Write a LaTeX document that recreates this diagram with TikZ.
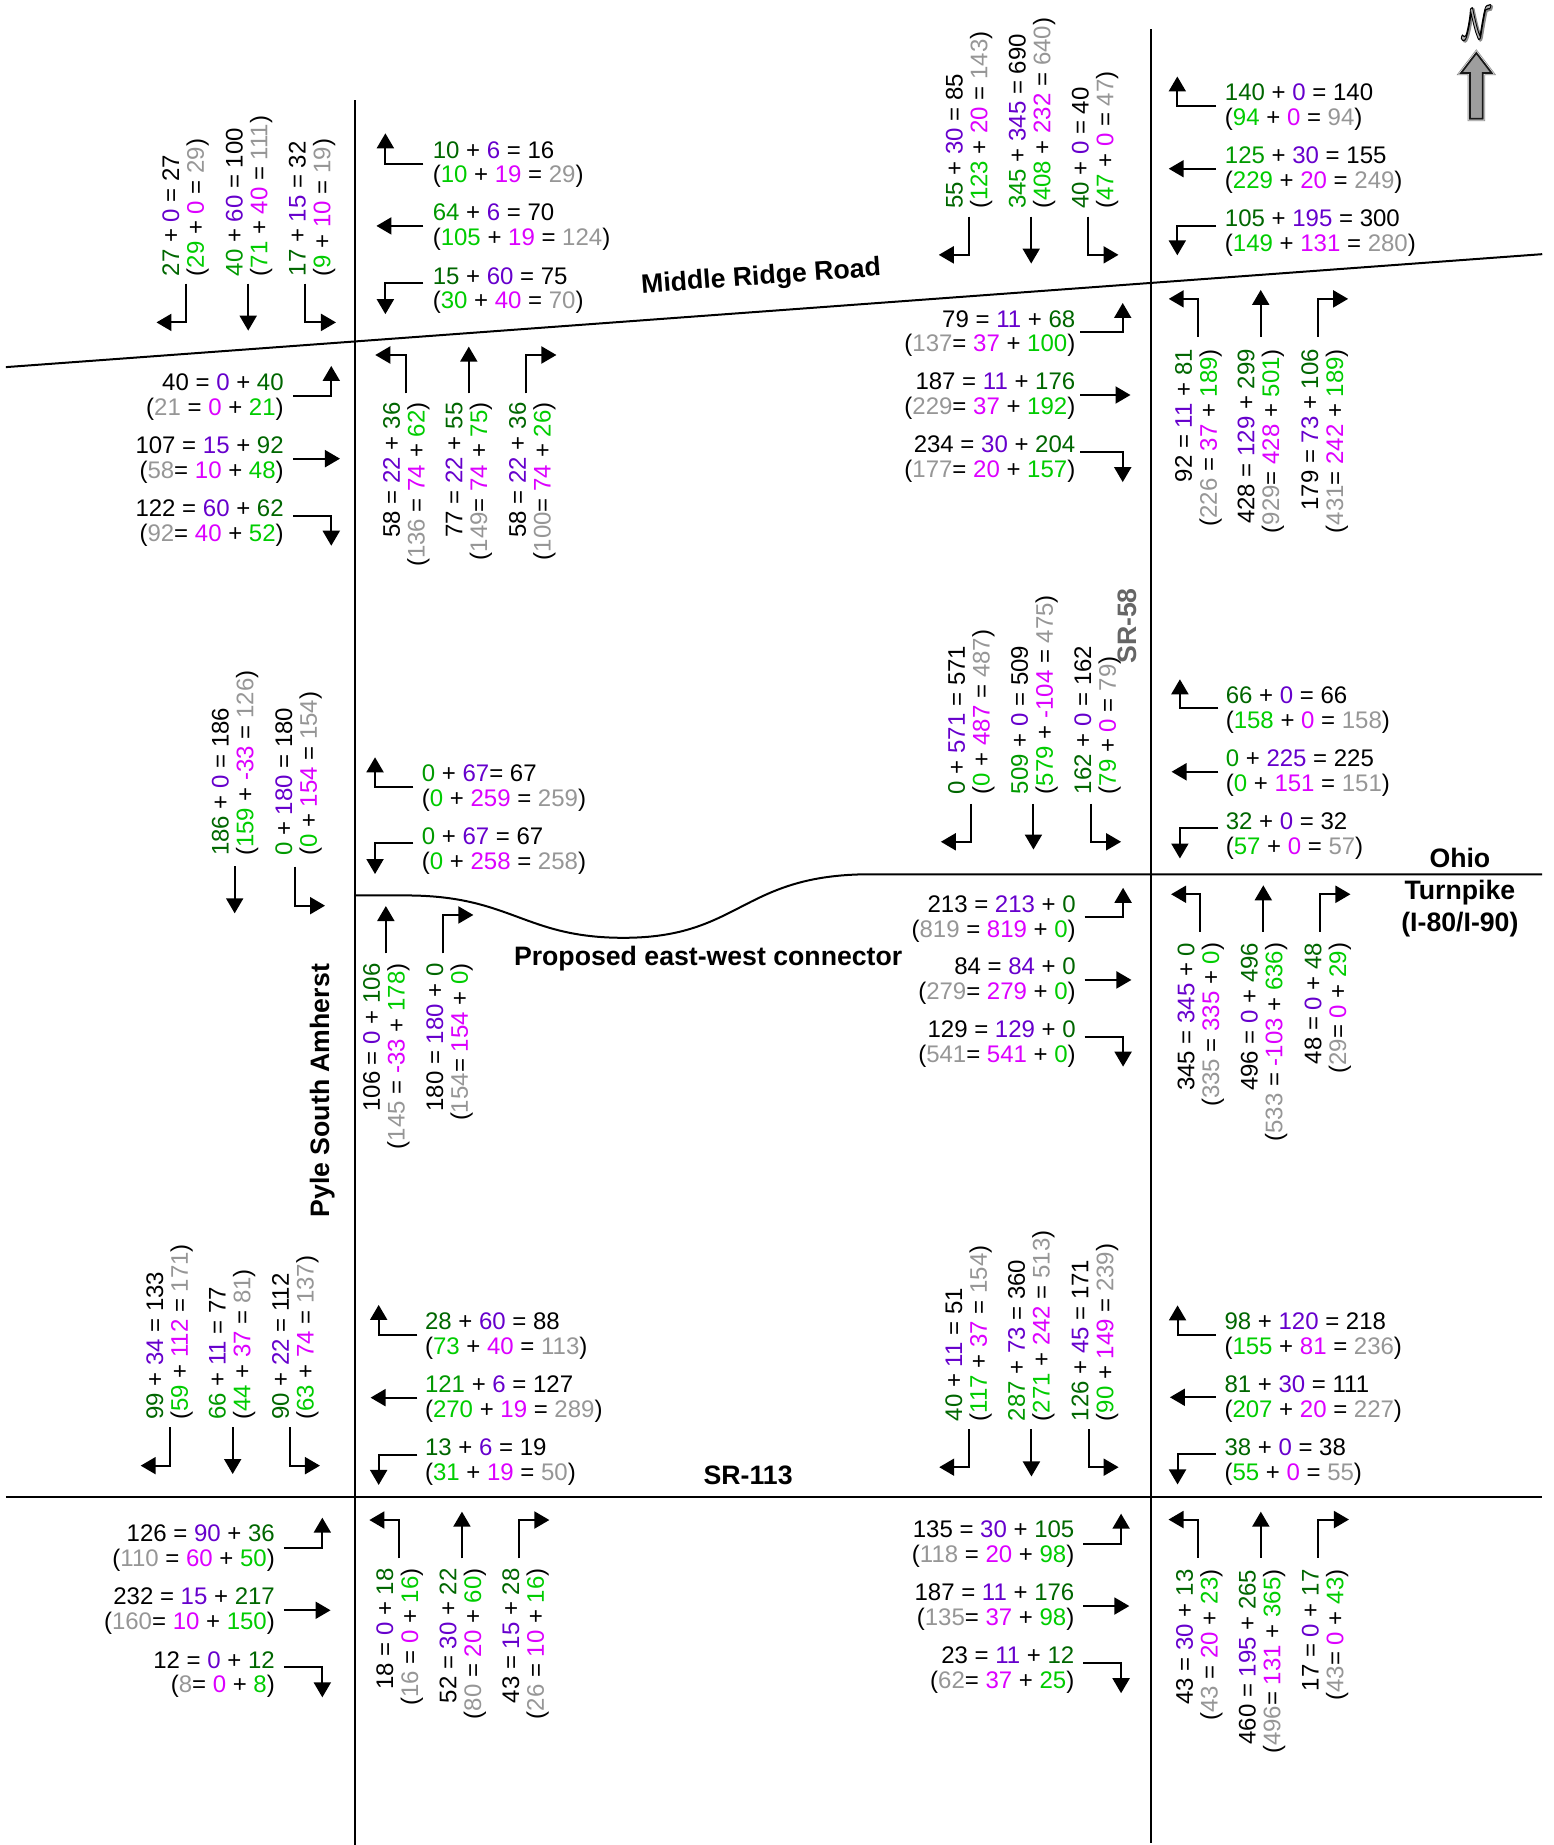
\documentclass[tikz,border=0pt]{standalone}
\usepackage{fontspec}
\usepackage{graphicx}
\setmainfont{Liberation Sans}
\usetikzlibrary{arrows.meta}
\definecolor{gdark}{HTML}{006600}
\definecolor{gmid}{HTML}{009900}
\definecolor{glight}{HTML}{00CC00}
\definecolor{purp}{HTML}{6600CC}
\definecolor{magn}{HTML}{DC00FF}
\definecolor{grey}{HTML}{969696}
\newcommand{\Cd}[1]{\textcolor{gdark}{#1}}
\newcommand{\Cm}[1]{\textcolor{gmid}{#1}}
\newcommand{\Cl}[1]{\textcolor{glight}{#1}}
\newcommand{\Cp}[1]{\textcolor{purp}{#1}}
\newcommand{\Cg}[1]{\textcolor{magn}{#1}}
\newcommand{\Cy}[1]{\textcolor{grey}{#1}}
% forward: a + b = c (d + e = f)
\newcommand{\Fd}[6]{\Cd{#1} + \Cp{#2} = #3\\(\Cl{#4} + \Cg{#5} = \Cy{#6})}
\newcommand{\Fm}[6]{\Cm{#1} + \Cp{#2} = #3\\(\Cl{#4} + \Cg{#5} = \Cy{#6})}
% backward: c = a + b (f = d + e)
\newcommand{\Bs}[6]{#1 = \Cp{#2} + \Cd{#3}\\(\Cy{#4} = \Cg{#5} + \Cl{#6})}
\newcommand{\Bn}[6]{#1 = \Cp{#2} + \Cd{#3}\\(\Cy{#4}= \Cg{#5} + \Cl{#6})}
\tikzset{
  road/.style={line width=2pt,line join=miter},
  mv/.style={line width=2pt,-{Triangle[length=15pt,width=17pt]}},
  flow/.style={inner sep=0pt,font=\fontsize{24}{24.8}\selectfont},
  tag/.style={inner sep=0pt,font=\fontsize{26.67}{32}\selectfont\bfseries,align=center},
  northmark/.style={inner sep=0pt,font=\fontsize{24.88}{25}\selectfont},
}
\newcommand{\Up}[4]{\node[flow,rotate=90,anchor=west,align=left] (#1) at ([xshift=2.1pt]#2,#3) {#4};}
\newcommand{\Dn}[4]{\node[flow,rotate=90,anchor=east,align=right] (#1) at ([xshift=2.1pt]#2,#3) {#4};}
\newcommand{\Lt}[4]{\node[flow,anchor=west,align=left] (#1) at ([xshift=-1pt,yshift=-2.9pt]#2,#3) {#4};}
\newcommand{\Rt}[4]{\node[flow,anchor=east,align=right] (#1) at ([yshift=-2.9pt]#2,#3) {#4};}
% x1 x2 x3 ystart yturn yend xleft xright
\newcommand{\VArrows}[8]{%
  \draw[mv] (#1,#4) -- (#1,#5) -- (#7,#5);
  \draw[mv] (#2,#4) -- (#2,#6);
  \draw[mv] (#3,#4) -- (#3,#5) -- (#8,#5);}
% xstart xturn xend y1 y2 y3 yfirst-end ylast-end
\newcommand{\HArrows}[8]{%
  \draw[mv] (#1,#4) -- (#2,#4) -- (#2,#7);
  \draw[mv] (#1,#5) -- (#3,#5);
  \draw[mv] (#1,#6) -- (#2,#6) -- (#2,#8);}
\begin{document}
\begin{tikzpicture}[x=1.17638pt,y=-1.17666pt]
\useasboundingbox (0,0) rectangle (1321,1568);
% roads
\draw[road] (302,85) -- (302,1568);
\draw[road] (978,25) -- (978,1566);
\draw[road] (5,312) -- (1311,216);
\draw[road] (5,1272) -- (1311,1272);
\draw[road] (302,761) -- (345,761) .. controls (435,761) and (445,797) .. (530,797)
  .. controls (630,797) and (630,743) .. (740,743) -- (1311,743);
% road labels
\node[tag,rotate=4.2] (rMiddle) at (647,236) {Middle Ridge Road};
\node[tag,rotate=90,text=black!60] (rSR58) at (958,532) {SR-58};
\node[tag] (rOhio) at (1241,729) {Ohio};
\node[tag] (rTurn) at (1241,772.5) {Turnpike\\(I-80/I-90)};
\node[tag] (rProp) at (602,815) {Proposed east-west connector};
\node[tag,rotate=90] (rPyle) at (274,927) {Pyle South Amherst};
\node[tag] (rSR113) at (636,1254) {SR-113};
% north arrow
\node[northmark,text=black!45] (nShadow) at (1256.2,21) {\scalebox{1.18}[1.75]{\special{pdf:code 2 Tr 1.1 w 0.55 0.55 0.55 RG}$\mathcal{N}$\special{pdf:code 0 Tr 1 w}}};
\node[northmark,text=black!30] (nLetter) at (1255,20) {\scalebox{1.18}[1.75]{\special{pdf:code 2 Tr 0.7 w 0 0 0 RG}$\mathcal{N}$\special{pdf:code 0 Tr 1 w}}};
\path[draw=black!45,line width=4.5pt,line join=miter]
  (1255,45) -- (1268,62) -- (1260.5,62) -- (1260.5,101) -- (1249.5,101) -- (1249.5,62) -- (1242,62) -- cycle;
\path[draw=white,line width=3pt,line join=miter]
  (1255,45) -- (1268,62) -- (1260.5,62) -- (1260.5,101) -- (1249.5,101) -- (1249.5,62) -- (1242,62) -- cycle;
\path[draw=black!90,fill=black!38,line width=1.8pt,line join=miter]
  (1255,45) -- (1268,62) -- (1260.5,62) -- (1260.5,101) -- (1249.5,101) -- (1249.5,62) -- (1242,62) -- cycle;
% ---------- Intersection Middle Ridge / Pyle
\Up{a1}{156}{235}{\Fd{27}{0}{27}{29}{0}{29}}
\Up{a2}{210}{235}{\Fm{40}{60}{100}{71}{40}{111}}
\Up{a3}{263.5}{235}{\Fd{17}{15}{32}{9}{10}{19}}
\VArrows{158}{211}{259.6}{241}{274}{281}{133}{285.6}
\Lt{a4}{368.6}{137.5}{\Fd{10}{6}{16}{10}{19}{29}}
\Lt{a5}{368.6}{190.7}{\Fm{64}{6}{70}{105}{19}{124}}
\Lt{a6}{368.6}{244.5}{\Fd{15}{60}{75}{30}{40}{70}}
\HArrows{360}{327.6}{320}{139}{192}{240.7}{113.3}{267}
\Rt{a7}{241.3}{335.3}{\Bs{40}{0}{40}{21}{0}{21}}
\Rt{a8}{241.3}{388.8}{\Bn{107}{15}{92}{58}{10}{48}}
\Rt{a9}{241.3}{442}{\Bn{122}{60}{62}{92}{40}{52}}
\HArrows{249.3}{281.6}{289}{336.6}{389.8}{438.3}{311}{463.8}
\Dn{a10}{343.6}{342}{\Bs{58}{22}{36}{136}{74}{62}}
\Dn{a11}{396.8}{342}{\Bn{77}{22}{55}{149}{74}{75}}
\Dn{a12}{450.7}{342}{\Bn{58}{22}{36}{100}{74}{26}}
\VArrows{345}{398.5}{447}{334.3}{301.7}{294.6}{319}{473}
% ---------- Intersection Middle Ridge / SR-58
\Up{b1}{822}{177.6}{\Fd{55}{30}{85}{123}{20}{143}}
\Up{b2}{875.6}{177.6}{\Fm{345}{345}{690}{408}{232}{640}}
\Up{b3}{929.2}{177.6}{\Fd{40}{0}{40}{47}{0}{47}}
\VArrows{823.6}{876.6}{925.2}{184}{216.6}{224}{798}{950.8}
\Lt{b4}{1042}{88.5}{\Fd{140}{0}{140}{94}{0}{94}}
\Lt{b5}{1042}{142}{\Fm{125}{30}{155}{229}{20}{249}}
\Lt{b6}{1042}{195.5}{\Fd{105}{195}{300}{149}{131}{280}}
\HArrows{1033.7}{1000.8}{993.5}{89.8}{143.4}{191.7}{65}{217}
\Rt{b7}{914.2}{281}{\Bn{79}{11}{68}{137}{37}{100}}
\Rt{b8}{914.2}{334.5}{\Bn{187}{11}{176}{229}{37}{192}}
\Rt{b9}{914.2}{388}{\Bn{234}{30}{204}{177}{20}{157}}
\HArrows{918.3}{954.4}{961}{282.4}{335.7}{384}{257.5}{409.7}
\Dn{b10}{1017}{296.5}{\Bs{92}{11}{81}{226}{37}{189}}
\Dn{b11}{1070}{296.5}{\Bn{428}{129}{299}{929}{428}{501}}
\Dn{b12}{1124.3}{296.5}{\Bn{179}{73}{106}{431}{242}{189}}
\VArrows{1018.4}{1071.7}{1120.7}{286}{254}{246.4}{993.5}{1146}
% ---------- Pyle / proposed connector
\Up{c1}{198}{727.5}{\Fd{186}{0}{186}{159}{-33}{126}}
\Up{c2}{252}{727.5}{\Fm{0}{180}{180}{0}{154}{154}}
\draw[mv] (199.5,736) -- (199.5,776.2);
\draw[mv] (250.8,736.5) -- (250.8,769.7) -- (276.3,769.7);
\Lt{c3}{359.3}{667}{\Cm{0} + \Cp{67}= 67\\(\Cl{0} + \Cg{259} = \Cy{259})}
\Lt{c4}{359.3}{720.7}{\Fm{0}{67}{67}{0}{258}{258}}
\draw[mv] (351.4,668.5) -- (318.8,668.5) -- (318.8,643.6);
\draw[mv] (351.4,716.7) -- (318.8,716.7) -- (318.8,742.8);
\Dn{c5}{326.6}{818.7}{\Bs{106}{0}{106}{145}{-33}{178}}
\Dn{c6}{380.4}{818.7}{\Bn{180}{180}{0}{154}{154}{0}}
\draw[mv] (328,810.2) -- (328,770);
\draw[mv] (376.9,810.2) -- (376.9,777.6) -- (402.4,777.6);
% ---------- SR-58 / Ohio Turnpike
\Up{d1}{824}{675}{\Fd{0}{571}{571}{0}{487}{487}}
\Up{d2}{877.6}{675}{\Fm{509}{0}{509}{579}{-104}{475}}
\Up{d3}{931.3}{675}{\Fd{162}{0}{162}{79}{0}{79}}
\VArrows{825.6}{878.5}{927.4}{683.2}{715.4}{722}{799.8}{953}
\Lt{d4}{1042.7}{601}{\Fd{66}{0}{66}{158}{0}{158}}
\Lt{d5}{1042.7}{654.4}{\Fm{0}{225}{225}{0}{151}{151}}
\Lt{d6}{1042.7}{708}{\Fd{32}{0}{32}{57}{0}{57}}
\HArrows{1035.6}{1003}{995.9}{602}{655.9}{704}{577.3}{729.6}
\Rt{d7}{914.6}{778.5}{\Bs{213}{213}{0}{819}{819}{0}}
\Rt{d8}{914.6}{831.6}{\Bn{84}{84}{0}{279}{279}{0}}
\Rt{d9}{914.6}{885}{\Bn{129}{129}{0}{541}{541}{0}}
\HArrows{922}{954.7}{961.8}{779}{832.8}{881.4}{754.5}{906.5}
\Dn{d10}{1019}{801}{\Bs{345}{345}{0}{335}{335}{0}}
\Dn{d11}{1072.7}{801}{\Bs{496}{0}{496}{533}{-103}{636}}
\Dn{d12}{1127}{801}{\Bn{48}{0}{48}{29}{0}{29}}
\VArrows{1020.3}{1073.9}{1122.4}{791.8}{760}{752.4}{995.5}{1148}
% ---------- SR-113 / Pyle
\Up{e1}{142.4}{1206.8}{\Fd{99}{34}{133}{59}{112}{171}}
\Up{e2}{195.5}{1206.8}{\Fm{66}{11}{77}{44}{37}{81}}
\Up{e3}{249.3}{1206.8}{\Fd{90}{22}{112}{63}{74}{137}}
\VArrows{144.5}{197.8}{246.5}{1213}{1245.6}{1252.7}{119.6}{272}
\Lt{e4}{362}{1133}{\Fd{28}{60}{88}{73}{40}{113}}
\Lt{e5}{362}{1186.4}{\Fm{121}{6}{127}{270}{19}{289}}
\Lt{e6}{362}{1240}{\Fd{13}{6}{19}{31}{19}{50}}
\HArrows{354.8}{321.9}{315}{1134.5}{1187.8}{1236.5}{1109}{1262}
\Rt{e7}{233.8}{1313.4}{\Bs{126}{90}{36}{110}{60}{50}}
\Rt{e8}{233.8}{1367}{\Bn{232}{15}{217}{160}{10}{150}}
\Rt{e9}{233.8}{1420.7}{\Bn{12}{0}{12}{8}{0}{8}}
\HArrows{241.4}{274}{281}{1315.3}{1368.5}{1417}{1289.8}{1442.5}
\Dn{e10}{338}{1332.8}{\Bs{18}{0}{18}{16}{0}{16}}
\Dn{e11}{391.7}{1332.8}{\Bs{52}{30}{22}{80}{20}{60}}
\Dn{e12}{445}{1332.8}{\Bs{43}{15}{28}{26}{10}{16}}
\VArrows{339.5}{392.7}{441.5}{1324.3}{1291.8}{1284.7}{314}{467}
% ---------- SR-113 / SR-58
\Up{f1}{821.6}{1208}{\Fd{40}{11}{51}{117}{37}{154}}
\Up{f2}{875}{1208}{\Fm{287}{73}{360}{271}{242}{513}}
\Up{f3}{929}{1208}{\Fd{126}{45}{171}{90}{149}{239}}
\VArrows{823.8}{876.8}{925.4}{1214.7}{1246.9}{1254.8}{798.4}{950.9}
\Lt{f4}{1041.6}{1133}{\Fd{98}{120}{218}{155}{81}{236}}
\Lt{f5}{1041.6}{1186.4}{\Fd{81}{30}{111}{207}{20}{227}}
\Lt{f6}{1041.6}{1240}{\Fd{38}{0}{38}{55}{0}{55}}
\HArrows{1033.4}{1001}{994.5}{1134.3}{1187.5}{1236}{1109.4}{1261.6}
\Rt{f7}{913.4}{1310}{\Bs{135}{30}{105}{118}{20}{98}}
\Rt{f8}{913.4}{1363.5}{\Bn{187}{11}{176}{135}{37}{98}}
\Rt{f9}{913.4}{1417}{\Bn{23}{11}{12}{62}{37}{25}}
\HArrows{920.7}{953}{960}{1311.9}{1364.9}{1413.4}{1286.4}{1439}
\Dn{f10}{1017.7}{1333.8}{\Bs{43}{30}{13}{43}{20}{23}}
\Dn{f11}{1071}{1333.8}{\Bn{460}{195}{265}{496}{131}{365}}
\Dn{f12}{1124.6}{1333.8}{\Bn{17}{0}{17}{43}{0}{43}}
\VArrows{1018.5}{1071.8}{1120.7}{1324}{1291.4}{1284.7}{993.3}{1146.7}
\end{tikzpicture}
\end{document}
